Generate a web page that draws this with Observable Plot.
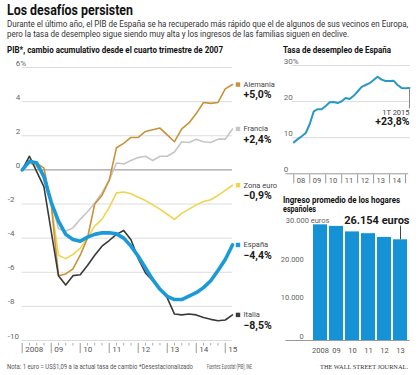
<!DOCTYPE html>
<html><head><meta charset="utf-8">
<script src="https://cdn.jsdelivr.net/npm/d3@7"></script>
<script src="https://cdn.jsdelivr.net/npm/@observablehq/plot@0.6"></script>
<style>
body{margin:0;background:#fff;}
#root{position:relative;width:420px;height:375px;overflow:hidden;font-family:Roboto,"Liberation Sans",sans-serif;color:#222;background:#fff}
.p{position:absolute;}
#overlay{position:absolute;left:0;top:0;pointer-events:none}
#sub{position:absolute;left:7px;top:19px;font-size:9.5px;line-height:10.2px;color:#333;white-space:nowrap;transform-origin:0 0;transform:scaleX(0.84)}
</style></head><body><div id="root"></div>
<script>
// ---------- DATA ----------
const quarters = ["4T 2007","1T 2008","2T 2008","3T 2008","4T 2008","1T 2009","2T 2009","3T 2009","4T 2009","1T 2010","2T 2010","3T 2010","4T 2010","1T 2011","2T 2011","3T 2011","4T 2011","1T 2012","2T 2012","3T 2012","4T 2012","1T 2013","2T 2013","3T 2013","4T 2013","1T 2014","2T 2014","3T 2014","4T 2014","1T 2015"];
const alemania = [0, 0.5, 0.4, 0.1, -2.0, -6.2, -6.1, -5.8, -5.0, -4.0, -2.0, -1.5, -0.6, 1.3, 1.55, 1.9, 1.9, 2.25, 2.35, 2.45, 2.05, 1.65, 2.4, 2.75, 3.3, 3.95, 3.9, 3.95, 4.75, 5.0];
const francia = [0, 0.4, 0.2, -0.3, -1.8, -3.45, -3.6, -3.4, -2.9, -2.45, -1.95, -1.35, -0.6, 0.4, 0.35, 0.55, 0.72, 0.8, 0.55, 0.8, 0.8, 1.05, 1.65, 1.6, 1.8, 1.65, 1.6, 1.8, 1.8, 2.4];
const zonaEuro = [0, 0.5, 0.2, -0.3, -2.0, -5.0, -5.2, -4.95, -4.6, -4.0, -3.3, -2.9, -2.2, -1.35, -1.3, -1.4, -1.6, -1.8, -2.05, -2.3, -2.6, -2.9, -2.55, -2.3, -2.05, -1.85, -1.75, -1.5, -1.2, -0.9];
const espana = [0, 0.5, 0.4, -0.4, -1.9, -3.0, -3.78, -4.08, -4.18, -3.94, -3.78, -3.69, -3.69, -3.75, -4.0, -4.47, -5.06, -5.75, -6.43, -7.0, -7.41, -7.6, -7.6, -7.4, -7.2, -6.9, -6.5, -5.9, -5.25, -4.4];
const italia = [0, 0.8, -0.1, -1.0, -3.6, -6.2, -6.75, -6.2, -6.15, -5.6, -5.0, -4.47, -4.14, -3.78, -3.55, -4.1, -5.2, -6.04, -6.5, -7.0, -7.5, -8.45, -8.5, -8.45, -8.5, -8.65, -8.76, -8.84, -8.8, -8.5];
const seriesNames = ["Alemania","Francia","Zona euro","España","Italia"];
const seriesLabels = ["+5,0%","+2,4%","\u22120,9%","\u22124,4%","\u22128,5%"];
const seriesColors = ["#c8923a","#c6c6c6","#f0d44c","#1a9ad8","#3a3a3a"];
const gdpTicks = [6,4,2,0,-2,-4,-6,-8,-10];
const gdpYears = [2008,2009,2010,2011,2012,2013,2014,2015];
const gdpYearLabels = ["2008","09","10","11","12","13","14","15"];

const desempleo = [8.7, 9.6, 10.4, 11.3, 13.8, 17.3, 17.9, 17.9, 18.8, 19.8, 19.9, 19.6, 20.1, 21.0, 20.7, 21.6, 22.8, 24.1, 24.6, 25.1, 26.0, 26.9, 26.1, 25.7, 25.7, 25.8, 24.6, 23.8, 23.7, 23.8];
const desempleoTicks = [0,10,20,30];
const desempleoYears = [2008,2009,2010,2011,2012,2013,2014,2015];
const desempleoYearLabels = ["08","09","10","11","12","13","14"];

const ingresoYears = ["2008","09","10","11","12","13"];
const ingreso = [30045, 29634, 28206, 27747, 26775, 26154];
const ingresoTicks = [0,10000,20000,30000];

// ---------- HELPERS ----------
const root = document.getElementById("root");
const qpos = s => { const [q, y] = s.split("T "); return +y + (+q) / 4; };
const X = quarters.map(qpos);
const fmtThousands = d => String(d).replace(/\B(?=(\d{3})+(?!\d))/g, ".");
function place(el, left, top) {
  const w = document.createElement("div");
  w.className = "p"; w.style.left = left + "px"; w.style.top = top + "px";
  w.appendChild(el); root.appendChild(w);
}
const baseStyle = {fontFamily: "Roboto, sans-serif", fontSize: "8px", color: "#555", background: "transparent", overflow: "visible"};

// ---------- CHART 1: PIB ----------
const gdpSeries = [alemania, francia, zonaEuro, espana, italia];
const gdpRows = seriesNames.flatMap((n, k) => gdpSeries[k].map((v, i) => ({name: n, x: X[i], v})));
const ends = seriesNames.map((n, k) => ({name: n, v: gdpSeries[k][gdpSeries[k].length - 1], label: seriesLabels[k], color: seriesColors[k]}));
const lastX = X[X.length - 1];
const minor = X.filter(x => !Number.isInteger(x) && x < 2015.1);
const drawOrder = ["Francia","Zona euro","Alemania","Italia","España"];
const lineMarks = drawOrder.map(n => {
  const k = seriesNames.indexOf(n);
  return Plot.line(gdpRows.filter(r => r.name === n), {x: "x", y: "v", stroke: seriesColors[k], strokeWidth: n === "España" ? 3.6 : 1.6, strokeLinejoin: "round"});
});
const c1 = Plot.plot({
  width: 280, height: 305, marginLeft: 21.7, marginRight: 48, marginTop: 12, marginBottom: 20,
  x: {domain: [2008, 2015.25], axis: null},
  y: {domain: [-10, 6], axis: null},
  color: {type: "identity"},
  style: baseStyle,
  marks: [
    Plot.ruleY(gdpTicks.filter(d => d !== 0), {stroke: "#dcdcdc", strokeWidth: 1}),
    Plot.ruleY([0], {stroke: "#8a8a8a", strokeWidth: 1}),
    Plot.text(gdpTicks.filter(d => d >= 0), {x: 2008, y: d => d, text: d => d === 6 ? "6%" : String(d), textAnchor: "start", dx: -6.5, dy: -4.5, fill: "#666", fontSize: 8}),
    Plot.text(gdpTicks.filter(d => d < 0), {x: 2008, y: d => d, text: d => "-" + String(-d), textAnchor: "start", dx: -14.5, dy: -4.5, fill: "#666", fontSize: 8}),
    Plot.ruleX(gdpYears, {x: d => d, y1: -10, y2: -10, insetTop: 3, insetBottom: -13, stroke: "#999"}),
    Plot.ruleX(minor, {x: d => d, y1: -10, y2: -10, insetTop: 3, insetBottom: -5.5, stroke: "#aaa"}),
    Plot.text(gdpYears, {x: d => d, y: -10, text: (d, i) => gdpYearLabels[i], textAnchor: "start", dx: 3, dy: 9, fill: "#555", fontSize: 8}),
    ...lineMarks,
    Plot.dot(ends, {x: lastX, y: "v", dx: 5.5, symbol: "square", r: 2.5, fill: "color", stroke: null}),
    Plot.text(ends, {x: lastX, y: "v", text: "name", dx: 11, textAnchor: "start", fontSize: 7.5, fill: "#444"}),
    Plot.text(ends, {x: lastX, y: "v", text: "label", dx: 11, dy: 10.5, textAnchor: "start", fontSize: 10.5, fontWeight: "bold", fill: "#1a1a1a"})
  ]
});
place(c1, 0, 55);

// ---------- CHART 2: DESEMPLEO ----------
const uRows = desempleo.map((v, i) => ({x: X[i], v}));
const c2 = Plot.plot({
  width: 140, height: 135, marginLeft: 13.3, marginRight: 11, marginTop: 10, marginBottom: 16.7,
  x: {domain: [2008, 2015.25], axis: null},
  y: {domain: [0, 30], axis: null},
  style: baseStyle,
  marks: [
    Plot.ruleY(desempleoTicks.filter(d => d > 0), {x1: 2007.9, x2: 2015.3, stroke: "#dcdcdc"}),
    Plot.ruleY([0], {x1: 2007.5, x2: 2015.2, stroke: "#999"}),
    Plot.text(desempleoTicks, {x: 2008, y: d => d, text: d => d === 30 ? "30%" : String(d), textAnchor: "start", dx: -10, dy: -4.5, fill: "#666", fontSize: 8}),
    Plot.ruleX(desempleoYears, {x: d => d, y1: 0, y2: 0, insetTop: 1, insetBottom: -10, stroke: "#999"}),
    Plot.text(desempleoYearLabels, {x: (d, i) => desempleoYears[i], y: 0, text: d => d, textAnchor: "start", dx: 3, dy: 7, fill: "#555", fontSize: 7.5}),
    Plot.line(uRows, {x: "x", y: "v", stroke: "#2a98c6", strokeWidth: 2, strokeLinejoin: "round"}),
    Plot.ruleX([uRows[uRows.length - 1]], {x: "x", y1: "v", y2: 18, stroke: "#888"}),
    Plot.text([quarters[quarters.length - 1]], {x: lastX, y: 18, text: d => d, textAnchor: "end", dy: 3.5, fill: "#444", fontSize: 7.5}),
    Plot.text([desempleo[desempleo.length - 1]], {x: lastX, y: 18, text: d => "+" + String(d).replace(".", ",") + "%", textAnchor: "end", dy: 13, fontSize: 10.5, fontWeight: "bold", fill: "#1a1a1a"})
  ]
});
place(c2, 280, 55);

// ---------- CHART 3: INGRESO ----------
const iRows = ingresoYears.map((y, i) => ({y, v: ingreso[i]}));
const c3 = Plot.plot({
  width: 140, height: 150, marginLeft: 33.3, marginRight: 12.3, marginTop: 12.5, marginBottom: 22,
  x: {domain: ingresoYears, axis: null, paddingInner: 0.1, paddingOuter: 0},
  y: {domain: [0, 30000], axis: null},
  style: baseStyle,
  marks: [
    Plot.barY(iRows, {x: "y", y: "v", fill: "#1591d6"}),
    Plot.ruleY([0], {stroke: "#999", insetLeft: -28, insetRight: -2}),
    Plot.text(ingresoTicks.filter(d => d < 30000), {frameAnchor: "left", y: d => d, text: d => fmtThousands(d), textAnchor: "end", dx: -10, dy: -4, fill: "#666", fontSize: 7.5}),
    Plot.text(ingresoTicks.filter(d => d === 30000), {frameAnchor: "left", y: d => d, text: d => fmtThousands(d) + " euros", textAnchor: "start", dx: -28, dy: -4, fill: "#666", fontSize: 7.5}),
    Plot.text(iRows, {x: "y", y: 0, text: "y", dy: 10, fill: "#555", fontSize: 7.5}),
    Plot.ruleX([iRows[iRows.length - 1]], {x: "y", y1: "v", y2: 29700, stroke: "#444"}),
    Plot.text([iRows[iRows.length - 1]], {x: "y", y: 30000, text: d => fmtThousands(d.v) + " euros", textAnchor: "end", dx: 9, dy: -4.5, fontSize: 11, fontWeight: "bold", fill: "#1a1a1a"})
  ]
});
place(c3, 280, 212);

// ---------- SUBTITLE (one block, two lines) ----------
const sub = document.createElement("div");
sub.id = "sub";
sub.append("Durante el último año, el PIB de España se ha recuperado más rápido que el de algunos de sus vecinos en Europa,",
  document.createElement("br"),
  "pero la tasa de desempleo sigue siendo muy alta y los ingresos de las familias siguen en declive.");
root.appendChild(sub);

// ---------- OTHER TEXTS (overlay svg) ----------
const ov = d3.select(root).append("svg").attr("id", "overlay").attr("width", 420).attr("height", 375)
  .attr("font-family", 'Roboto, "Liberation Sans", sans-serif');
function addText(txt, left, base, size, weight, fitW, color, family) {
  const t = ov.append("text").attr("transform", `translate(${left},${base})`)
    .attr("font-size", size).attr("font-weight", weight)
    .attr("fill", color).text(txt);
  if (family) t.attr("font-family", family);
  t.attr("textLength", fitW).attr("lengthAdjust", "spacingAndGlyphs");
}
addText("Los desafíos persisten", 7, 14.8, 14, 700, 126, "#111");
addText("PIB*, cambio acumulativo desde el cuarto trimestre de 2007", 7, 52.8, 9, 700, 216, "#111");
addText("Tasa de desempleo de España", 283, 52.8, 9, 700, 108, "#111");
addText("Ingreso promedio de los hogares", 283, 203, 9, 700, 117, "#111");
addText("españoles", 283, 211.5, 9, 700, 33, "#111");
addText("Nota: 1 euro = US$1,09 a la actual tasa de cambio   *Desestacionalizado", 7, 369, 6.5, 400, 186, "#555");
addText("Fuentes: Eurostat (PIB); INE", 207, 369, 6.5, 400, 45, "#555");
addText("THE WALL STREET JOURNAL.", 320, 369, 7, 400, 88, "#333", "'Liberation Serif','DejaVu Serif',serif");
</script></body></html>
